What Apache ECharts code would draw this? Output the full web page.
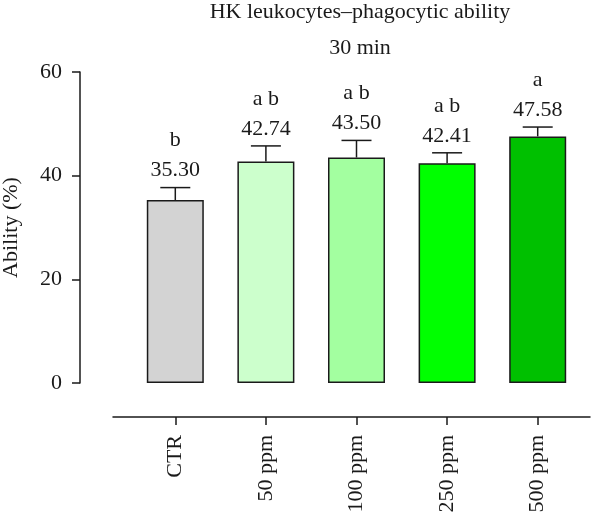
<!DOCTYPE html>
<html>
<head>
<meta charset="utf-8">
<script src="https://cdn.jsdelivr.net/npm/echarts@6/dist/echarts.min.js"></script>
<style>
  html, body { margin: 0; padding: 0; background: #fff; }
  #chart { width: 600px; height: 519px; }
</style>
</head>
<body>
<div id="chart"></div>
<script>
// data
const categories = ["CTR", "50 ppm", "100 ppm", "250 ppm", "500 ppm"];
const means = [35.30, 42.74, 43.50, 42.41, 47.58];
const sds = [2.4, 3.0, 3.3, 2.0, 1.8];
const letters = ["b", "a b", "a b", "a b", "a"];
const yTicks = [0, 20, 40, 60];

const barColors = ["#d3d3d3", "#ccffcc", "#a3ffa0", "#00ff00", "#00c000"];
const FONT = "Liberation Serif";
const INK = "#1a1a1a";

const myChart = echarts.init(document.getElementById("chart"));

let option = {
  title: [
    {
      text: "HK leukocytes\u2013phagocytic ability",
      left: 355,
      top: -4,
      textAlign: "center",
      textStyle: { fontFamily: FONT, fontSize: 22, fontWeight: "normal", color: INK }
    },
    {
      text: "30 min",
      left: 355,
      top: 32,
      textAlign: "center",
      textStyle: { fontFamily: FONT, fontSize: 22, fontWeight: "normal", color: INK }
    }
  ],
  grid: [
    { left: 130, right: 17, top: 72, bottom: 136, outerBoundsMode: "none" },
    // wider grid only to carry the long x axis line
    { left: 113, right: 10, top: 72, bottom: 136, outerBoundsMode: "none" }
  ],
  xAxis: [
    {
      type: "category",
      gridIndex: 0,
      data: categories,
      offset: 34,
      axisLine: { show: false, onZero: false },
      axisTick: {
        show: true,
        alignWithLabel: true,
        inside: false,
        length: 8,
        lineStyle: { color: INK, width: 1.5 }
      },
      axisLabel: {
        rotate: 90,
        margin: 18,
        fontFamily: FONT,
        fontSize: 22,
        color: INK
      }
    },
    {
      type: "value",
      gridIndex: 1,
      offset: 34,
      min: 0,
      max: 1,
      axisLine: { show: true, onZero: false, lineStyle: { color: INK, width: 1.5 } },
      axisTick: { show: false },
      axisLabel: { show: false },
      splitLine: { show: false }
    }
  ],
  yAxis: [
    {
      type: "value",
      gridIndex: 0,
      min: yTicks[0],
      max: yTicks[yTicks.length - 1],
      interval: 20,
      offset: 50,
      name: "Ability (%)",
      nameLocation: "middle",
      nameGap: 58,
      nameTextStyle: { fontFamily: FONT, fontSize: 22, color: INK },
      axisLine: { show: true, lineStyle: { color: INK, width: 1.5 } },
      axisTick: { show: true, length: 8, lineStyle: { color: INK, width: 1.5 } },
      axisLabel: { margin: 18, fontFamily: FONT, fontSize: 22, color: INK },
      splitLine: { show: false }
    },
    {
      type: "value",
      gridIndex: 1,
      show: false
    }
  ],
  series: [
    {
      type: "bar",
      xAxisIndex: 0,
      yAxisIndex: 0,
      barWidth: 57,
      data: means.map((v, i) => ({
        value: v,
        itemStyle: { color: barColors[i] }
      })),
      itemStyle: { borderColor: INK, borderWidth: 1.5 },
      z: 2
    },
    {
      type: "custom",
      xAxisIndex: 0,
      yAxisIndex: 0,
      data: means.map((v, i) => [i, v, sds[i]]),
      z: 1,
      renderItem: function (params, api) {
        const i = api.value(0);
        const base = api.coord([i, api.value(1)]);
        const top = api.coord([i, api.value(1) + api.value(2)]);
        const half = 15;
        return {
          type: "group",
          children: [
            {
              type: "line",
              shape: { x1: base[0], y1: base[1], x2: top[0], y2: top[1] },
              style: { stroke: INK, lineWidth: 1.5 }
            },
            {
              type: "line",
              shape: { x1: top[0] - half, y1: top[1], x2: top[0] + half, y2: top[1] },
              style: { stroke: INK, lineWidth: 1.5 }
            },
            {
              type: "text",
              x: top[0],
              y: top[1] - 2,
              style: {
                text: letters[params.dataIndex] + "\n" + means[params.dataIndex].toFixed(2),
                textAlign: "center",
                textVerticalAlign: "bottom",
                font: "22px " + FONT,
                lineHeight: 30,
                fill: INK
              }
            }
          ]
        };
      }
    }
  ]
};

myChart.setOption(option);
</script>
</body>
</html>
